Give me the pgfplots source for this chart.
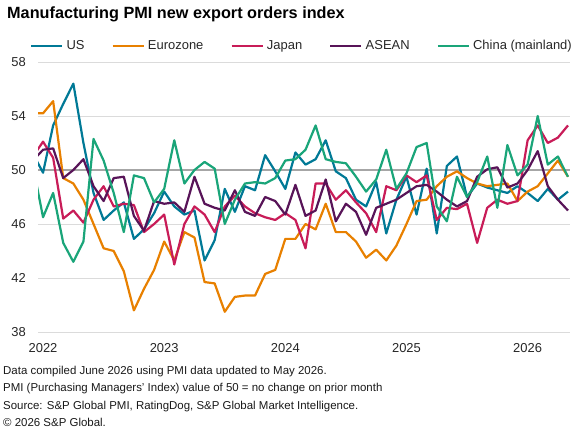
\documentclass[border=0pt]{standalone}
\usepackage{pgfplots}
\pgfplotsset{compat=1.18}
\usepackage{pgfplotstable}
\usepackage{fontspec}
\setmainfont{Liberation Sans}
\definecolor{cUS}{RGB}{0,121,150}
\definecolor{cEZ}{RGB}{232,128,0}
\definecolor{cJP}{RGB}{200,28,88}
\definecolor{cAS}{RGB}{88,20,88}
\definecolor{cCN}{RGB}{26,165,121}
\pgfplotstableread{
m US EZ JP AS CN
-1 51.2 54.2 51.0 50.7 50.3
0 49.8 54.2 52.1 51.5 46.5
1 53.3 55.1 50.9 51.6 48.3
2 54.9 49.4 46.4 49.4 44.6
3 56.4 49.0 47.0 50.0 43.2
4 52.0 47.8 46.1 50.8 44.7
5 48.3 46.0 47.8 48.8 52.3
6 46.3 44.2 48.8 47.7 50.7
7 47.0 44.0 47.3 49.4 48.3
8 47.6 42.5 47.5 49.5 45.4
9 44.9 39.6 47.4 46.6 49.6
10 45.6 41.2 45.4 45.5 49.4
11 46.8 42.6 46.0 47.7 47.6
12 48.4 44.7 46.7 47.5 48.6
13 47.3 43.3 43.0 47.6 52.2
14 46.7 45.4 46.0 46.9 49.0
15 47.0 45.0 47.3 49.5 50.0
16 43.3 41.7 46.7 47.5 50.6
17 44.8 41.6 45.4 47.2 50.1
18 48.6 39.5 47.3 47.0 46.0
19 46.9 40.6 48.1 48.5 47.8
20 48.8 40.7 47.3 46.9 49.0
21 48.5 40.7 46.8 46.6 49.1
22 51.1 42.3 46.5 48.0 49.0
23 49.9 42.6 46.3 47.7 49.4
24 48.6 44.9 46.8 46.7 50.7
25 51.3 44.9 46.3 48.9 50.8
26 50.4 46.0 44.2 46.6 51.5
27 50.8 45.6 49.0 47.0 53.3
28 52.2 47.5 49.0 49.3 50.8
29 49.9 45.4 47.8 46.2 50.6
30 49.4 45.4 48.5 47.5 50.5
31 47.8 44.7 47.6 46.9 49.5
32 47.3 43.5 46.8 45.2 48.4
33 49.1 44.1 45.4 47.2 49.3
34 45.3 43.3 48.8 47.5 51.5
35 47.8 44.4 48.5 47.8 48.6
36 49.5 46.0 49.6 48.3 49.75
37 46.7 47.7 49.1 48.8 51.7
38 50.1 47.8 49.6 48.9 52.0
39 45.3 48.8 46.3 48.4 47.3
40 50.3 49.5 47.2 47.8 46.2
41 51.0 49.9 47.1 47.3 49.5
42 48.0 49.4 47.5 47.7 48.0
43 49.0 49.0 44.6 49.5 49.1
44 48.7 48.8 47.2 50.05 51.0
45 48.5 48.9 47.8 50.2 47.2
46 48.3 49.0 47.5 48.7 51.85
47 48.8 47.7 47.7 49.0 49.6
48 48.3 48.4 52.2 50.0 50.4
49 47.7 48.8 53.3 51.4 54.0
50 48.6 49.75 52.0 48.8 50.4
51 47.8 50.7 52.4 47.8 51.0
52 48.4 49.5 53.3 47.0 49.5
}\pmidata
\begin{document}
\begin{tikzpicture}[x=1bp,y=1bp]
\path[use as bounding box] (0,0) rectangle (577,430);
\begin{axis}[
  at={(38bp,98bp)}, anchor=south west,
  scale only axis, width=532bp, height=270bp,
  xmin=-0.5, xmax=52.2, ymin=38, ymax=58,
  xtick={0,12,24,36,48}, xticklabels={2022,2023,2024,2025,2026},
  ytick={38,42,46,50,54,58},
  /pgf/number format/assume math mode=true,
  tick label style={font=\fontsize{13}{15}\selectfont, text=black!85},
  xticklabel style={inner sep=0pt, yshift=-11bp},
  yticklabel style={inner sep=0pt, xshift=-12bp},
  axis line style={draw=none}, major tick length=0pt,
  ymajorgrids, major grid style={gray!28, line width=0.8bp},
  legend style={at={(0,1)}, anchor=west, xshift=-8bp, yshift=16bp,
    draw=none, fill=none, inner sep=0pt, outer sep=0pt,
    font=\fontsize{13}{15}\selectfont, text=black!85,
    nodes={inner sep=0pt, outer sep=0pt},
    /tikz/every odd column/.append style={column sep=3bp},
    /tikz/every even column/.append style={column sep=27bp}},
  legend columns=-1,
  legend image code/.code={\draw[#1, line width=2.5bp] (0bp,0bp) -- (31bp,0bp);},
  every axis plot/.append style={line width=2.2bp, line join=round, no markers},
]
\addplot[gray!70, line width=1.2bp, forget plot] coordinates {(-0.5,50) (52.2,50)};
\addplot[cUS] table[x=m,y=US]{\pmidata};
\addplot[cEZ] table[x=m,y=EZ]{\pmidata};
\addplot[cJP] table[x=m,y=JP]{\pmidata};
\addplot[cAS] table[x=m,y=AS]{\pmidata};
\addplot[cCN] table[x=m,y=CN]{\pmidata};
\legend{US,Eurozone,Japan,ASEAN,China (mainland)}
\end{axis}
\node[anchor=base west, inner sep=0pt, font=\bfseries\fontsize{16.3}{18}\selectfont] at (7,411) {Manufacturing PMI new export orders index};
\begin{scope}[every node/.style={anchor=base west, inner sep=0pt, font=\fontsize{11.5}{13}\selectfont, text=black!90}]
\node at (3,56) {Data compiled June 2026 using PMI data updated to May 2026.};
\node at (3,38.5) {PMI (Purchasing Managers' Index) value of 50 = no change on prior month};
\node at (3,21) {Source: S\&P Global PMI, RatingDog, S\&P Global Market Intelligence.};
\node at (3,3.5) {© 2026 S\&P Global.};
\end{scope}
\end{tikzpicture}
\end{document}
